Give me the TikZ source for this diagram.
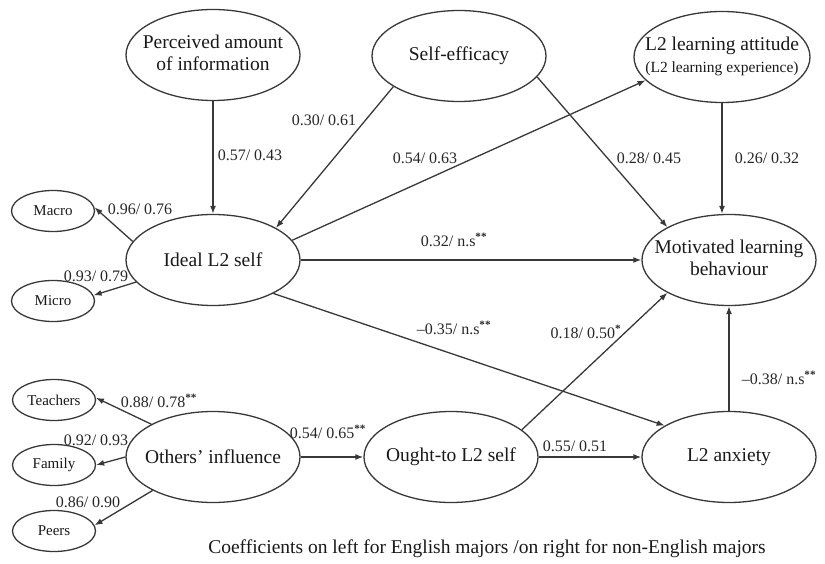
\documentclass[tikz,border=0pt]{standalone}
\usepackage{fontspec}
\setmainfont{Liberation Serif}
\usetikzlibrary{shapes.geometric,arrows.meta}
\newcommand{\zw}[1]{\makebox[0pt]{#1}}
\newcommand{\twol}[2]{\makebox[0pt]{\begin{tabular}{@{}c@{}}#1\\#2\end{tabular}}}
\newcommand{\sig}[1]{\textsuperscript{\textbf{#1}}}
\begin{document}
\begin{tikzpicture}[x=1pt,y=-1pt,
  lat/.style={ellipse,draw=black!78,line width=1.3pt,inner sep=0pt,minimum width=174pt,minimum height=91pt,font=\fontsize{19.5}{22}\selectfont,text=black!90},
  obs/.style={ellipse,draw=black!78,line width=1.3pt,inner sep=0pt,minimum width=83pt,minimum height=41pt,font=\fontsize{15}{17}\selectfont,text=black!90},
  coef/.style={inner sep=0pt,font=\fontsize{16}{18}\selectfont,text=black!85},
  arr/.style={draw=black!78,line width=1.3pt,-{Latex[length=8pt,width=6pt]}}]
\useasboundingbox (0,0) rectangle (825,564);
% latent nodes
\node[lat] (P) at (213,55) {\twol{Perceived amount}{of information}};
\node[lat] (SE) at (459,56) {\zw{Self-efficacy}};
\node[lat,minimum width=176pt] (LA) at (722,57) {\twol{L2 learning attitude}{{\fontsize{15.5}{17}\selectfont(L2 learning experience)}}};
\node[lat] (I) at (213,260) {\zw{Ideal L2 self}};
\node[lat] (M) at (729,260) {\twol{Motivated learning}{behaviour}};
\node[lat] (O) at (213,457) {\zw{Others’ influence}};
\node[lat] (OT) at (451,457) {\zw{Ought-to L2 self}};
\node[lat] (A) at (729,457) {\zw{L2 anxiety}};
% indicators
\node[obs] (MA) at (53,211) {Macro};
\node[obs] (MI) at (53,301) {Micro};
\node[obs] (T) at (54,400) {Teachers};
\node[obs] (F) at (54,465) {Family};
\node[obs] (PE) at (54,531) {Peers};
% paths
\draw[arr] (P.south) -- (I.north);
\draw[arr] (SE.205) -- (I.27);
\draw[arr] (I.14) -- (LA.197);
\draw[arr] (SE.345) -- (M.152);
\draw[arr] (LA.south) -- (LA.south |- M.north);
\draw[arr] (I.east) -- (M.west);
\draw[arr] (I.331) -- (A.154);
\draw[arr] (OT.21) -- (M.208);
\draw[arr] (A.north) -- (M.south);
\draw[arr] (OT.east) -- (A.west);
\draw[arr] (O.east) -- (OT.west);
\draw[arr] (I.167) -- (MA.5);
\draw[arr] (I.196) -- (MI.8);
\draw[arr] (O.152) -- (T.3);
\draw[arr] (O.west) -- (F.east);
\draw[arr] (O.209) -- (PE.8);
% coefficients
\node[coef] (c1) at (250,155) {0.57/ 0.43};
\node[coef] (c2) at (324,120) {0.30/ 0.61};
\node[coef] (c3) at (425,158) {0.54/ 0.63};
\node[coef] (c4) at (649,158) {0.28/ 0.45};
\node[coef] (c5) at (767,158) {0.26/ 0.32};
\node[coef] (c6) at (454,240) {0.32/ n.s\sig{**}};
\node[coef] (c7) at (454,328) {\textendash0.35/ n.s\sig{**}};
\node[coef] (c8) at (586,332) {0.18/ 0.50\sig{*}};
\node[coef] (c9) at (779,378) {\textendash0.38/ n.s\sig{**}};
\node[coef] (c10) at (575,446) {0.55/ 0.51};
\node[coef] (c11) at (328,432) {0.54/ 0.65\sig{**}};
\node[coef] (c12) at (140,209) {0.96/ 0.76};
\node[coef] (c13) at (96,276) {0.93/ 0.79};
\node[coef] (c14) at (159,401) {0.88/ 0.78\sig{**}};
\node[coef] (c15) at (96,440) {0.92/ 0.93};
\node[coef] (c16) at (88,502) {0.86/ 0.90};
% caption
\node[inner sep=0pt,font=\fontsize{19.5}{22}\selectfont,text=black!90] (cap) at (487,549) {Coefficients on left for English majors /on right for non-English majors};
\end{tikzpicture}
\end{document}
